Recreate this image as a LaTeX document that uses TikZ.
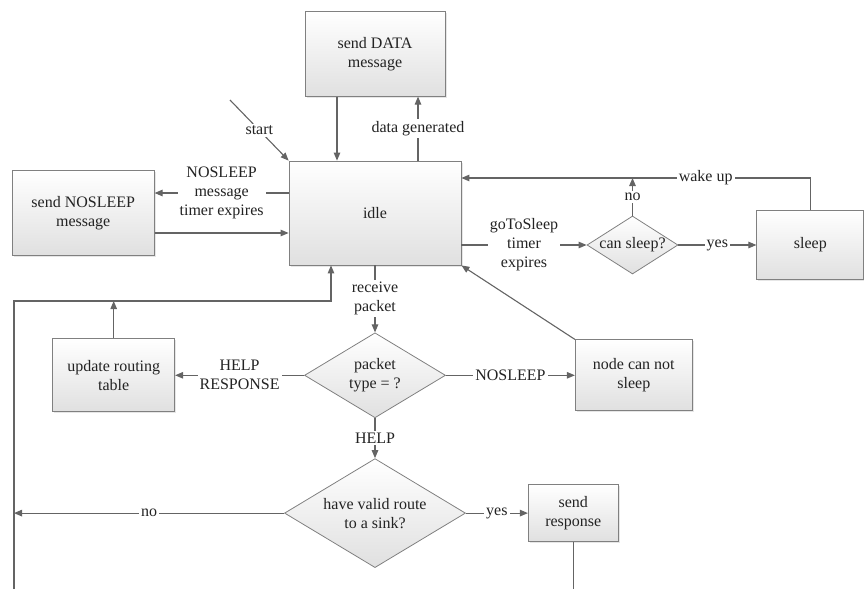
\documentclass[tikz,border=0pt]{standalone}
\usepackage{fontspec}
\setmainfont{Liberation Serif}
\newfontfamily\diagfont{Liberation Serif}
\usetikzlibrary{shapes.geometric, arrows.meta, positioning, shadows}
\definecolor{edgegray}{RGB}{128,128,128}
\definecolor{linegray}{RGB}{100,100,100}
\definecolor{fillgray}{RGB}{224,224,224}
\definecolor{textgray}{RGB}{35,35,35}

\begin{document}
\begin{tikzpicture}[
    x=1pt, y=-1pt,
    state/.style={draw=edgegray, rectangle, line width=0.8pt, top color=white, bottom color=fillgray, align=center, font=\diagfont\fontsize{16}{19}\selectfont, text=textgray, drop shadow={shadow xshift=1.5pt, shadow yshift=-1.5pt, opacity=.2}},
    check/.style={draw=edgegray, diamond, line width=0.8pt, inner sep=0pt, top color=white, bottom color=fillgray, align=center, font=\diagfont\fontsize{16}{19}\selectfont, text=textgray},
    arrow/.style={-{Triangle[length=8pt,width=6.5pt]}, line width=1.1pt, draw=linegray},
    link/.style={line width=1.1pt, draw=linegray},
    tag/.style={fill=white, inner sep=2pt, align=center, font=\diagfont\fontsize{16}{19}\selectfont, text=textgray}
]
\useasboundingbox (0,0) rectangle (864,589);
\node[state, minimum width=172pt, minimum height=104pt] (idle) at (375,213) {idle};
\node[state, minimum width=140pt, minimum height=85pt, above=64pt of idle] (data) {send DATA\\message};
\node[state, minimum width=142pt, minimum height=85pt, left=134pt of idle] (nsmsg) {send NOSLEEP\\message};
\node[check, aspect=1.57, minimum width=91pt, minimum height=58pt] (cansleep) at (632.5,245) {can sleep?};
\node[state, minimum width=107pt, minimum height=69pt, right=78pt of cansleep] (sleep) {sleep};
\node[check, aspect=1.66, minimum width=141pt, minimum height=85pt, below=67pt of idle] (ptype) {packet\\type = ?};
\node[state, minimum width=122pt, minimum height=73pt, left=129pt of ptype] (update) {update routing\\table};
\node[state, minimum width=117pt, minimum height=71pt, right=129pt of ptype] (cannot) {node can not\\sleep};
\node[check, aspect=1.66, minimum width=181pt, minimum height=109pt, below=40pt of ptype] (route) {have valid route\\to a sink?};
\node[state, minimum width=90pt, minimum height=57pt, right=62pt of route] (resp) {send\\response};
\coordinate (startc) at (230,100);
\coordinate (wake) at ([yshift=35pt]idle.east);
\coordinate (loopc) at (14,301);
\coordinate (loopend) at (14,589);

\draw[arrow] (startc) -- node[tag]{start} (idle.north west);
\draw[arrow] ([xshift=-38pt]data.south) -- ([xshift=-38pt]idle.north);
\draw[arrow] ([xshift=43pt]idle.north) -- node[tag]{data generated} ([xshift=43pt]data.south);
\draw[arrow] ([yshift=20pt]idle.west) -- node[tag]{NOSLEEP\\message\\timer expires} ([yshift=20pt]idle.west -| nsmsg.east);
\draw[arrow] ([yshift=-20pt]idle.west -| nsmsg.east) -- ([yshift=-20pt]idle.west);
\draw[arrow] (idle.east |- cansleep.west) -- node[tag]{goToSleep\\timer\\expires} (cansleep.west);
\draw[arrow] (cansleep.east) -- node[tag]{yes} (sleep.west);
\draw[arrow] (sleep.north) |- node[tag, pos=.65]{wake up} (wake);
\draw[arrow] (cansleep.north) -- node[tag]{no} (cansleep.north |- wake);
\draw[arrow] (idle.south) -- node[tag]{receive\\packet} (ptype.north);
\draw[arrow] (ptype.west) -- node[tag]{HELP\\RESPONSE} (update.east);
\draw[arrow] (ptype.east) -- node[tag]{NOSLEEP} (cannot.west);
\draw[arrow] (cannot.north west) -- (idle.south east);
\draw[arrow] (ptype.south) -- node[tag]{HELP} (route.north);
\draw[arrow] (route.east) -- node[tag]{yes} (resp.west);
\draw[arrow] (route.west) -- node[tag]{no} (route.west -| loopc);
\draw[arrow] (update.north) -- (update.north |- loopc);
\draw[arrow] (loopend) -- (loopc) -| ([xshift=-44pt]idle.south);
\draw[link] (resp.south) -- (resp.south |- loopend);
\end{tikzpicture}
\end{document}
